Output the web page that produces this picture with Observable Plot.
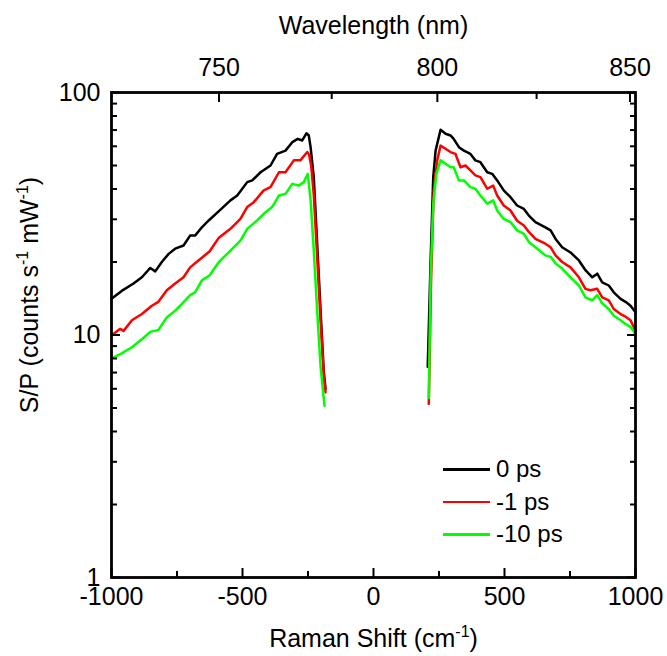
<!DOCTYPE html>
<html><head><meta charset="utf-8">
<script src="https://cdn.jsdelivr.net/npm/d3@7"></script>
<script src="https://cdn.jsdelivr.net/npm/@observablehq/plot@0.6"></script>
<style>
body{margin:0;background:#fff;font-family:"Liberation Sans",Arial,sans-serif;}
#wrap{position:relative;width:667px;height:656px;}
#legend{position:absolute;left:443px;top:453px;font-size:24px;color:#000;}
#legend .row{display:flex;align-items:center;height:32.5px;}
#legend .sw{width:47px;height:2.5px;margin-right:6px;}
</style></head><body><div id="wrap"></div><script>
// Series
const seriesNames = ["0 ps", "-1 ps", "-10 ps"];
const seriesColors = ["#000000", "#ff0000", "#00ff00"];

// Anti-Stokes branch (negative Raman shift), S/P in counts s^-1 mW^-1
const asShift0 = [-1000,-961,-916,-884,-852,-833,-808,-782,-757,-725,-700,-681,-655,-630,-588,-546,-520,-482,-463,-431,-393,-368,-336,-310,-289,-272,-256,-247,-240,-228,-215,-202,-190,-183];
const asSP0 = [14.1,15.2,16.3,17.3,18.9,18.3,20.0,21.6,22.7,23.4,25.7,25.7,27.8,29.6,32.6,35.9,37.6,42.7,43.4,46.9,50.0,55.8,57.6,62.4,64.4,63.4,67.9,66.5,59.4,44.8,23.8,12.6,7.1,6.0];
const asShift1 = [-1000,-967,-954,-922,-884,-846,-821,-789,-757,-725,-700,-668,-626,-590,-546,-508,-482,-457,-419,-393,-361,-336,-304,-279,-253,-246,-238,-228,-215,-202,-190,-183];
const asSP1 = [9.95,10.6,10.4,11.5,12.2,13.2,13.7,15.3,16.3,17.3,19.0,20.3,22.1,25.2,27.4,30.1,33.7,35.3,39.5,40.7,46.9,46.9,52.5,52.5,56.8,55.5,50,38,21,11.5,6.8,5.8];
const asShift10 = [-1000,-961,-922,-884,-852,-821,-789,-757,-738,-700,-681,-655,-626,-590,-546,-508,-482,-444,-419,-387,-361,-336,-310,-285,-266,-251,-240,-228,-215,-202,-187];
const asSP10 = [8.0,8.4,8.9,9.6,10.3,10.5,11.8,12.6,13.2,14.6,15.0,16.8,17.6,20.0,22.3,24.5,27.4,29.7,31.6,33.7,37.6,38.2,42.0,41.3,42.7,46.2,35.9,22.3,12.6,7.4,5.1];

// Stokes branch (positive Raman shift)
const sShift0 = [207,218,228,237,256,275,294,306,326,345,370,389,408,434,453,472,497,523,548,574,593,618,656,676,695,720,752,784,809,835,854,873,898,917,943,962,981,1000];
const sSP0 = [7.4,20.3,44.8,57.6,70.2,67.6,66.5,64.4,59.5,57.6,55.8,52.5,51.6,46.9,46.2,43.4,39.5,37.0,34.2,33.1,31.1,29.2,27.8,27.0,24.9,23.0,21.9,20.3,18.5,17.3,17.9,16.5,16.0,15.0,14.1,13.7,13.2,12.4];
const sShift1 = [211,220,230,243,256,275,294,313,332,351,370,389,408,434,457,472,497,523,548,574,593,618,656,676,695,720,752,784,809,828,854,873,898,917,943,962,981,1000];
const sSP1 = [5.2,17.3,39.5,52.5,60.4,58.6,56.8,55.8,49.2,50.0,47.7,45.5,44.8,40.1,41.3,37.6,34.2,32.6,29.6,28.3,26.6,24.9,23.8,23.0,21.3,20.0,19.0,17.3,15.5,15.3,15.5,14.3,13.9,12.8,12.2,11.9,11.5,10.4];
const sShift10 = [211,218,228,240,256,275,294,306,326,345,370,389,408,434,457,472,497,523,548,574,593,618,656,676,695,720,752,784,809,835,854,873,898,917,943,962,981,1000];
const sSP10 = [5.5,17.3,34.8,46.2,52.5,50.8,49.2,49.2,43.4,43.4,40.7,40.1,37.6,34.8,35.9,32.6,30.1,29.2,27.0,26.1,24.2,23.0,21.3,21.0,19.7,18.8,17.3,16.0,14.3,13.9,14.6,13.5,12.8,12.0,11.5,11.1,10.8,10.1];

// Axis ticks
const xMajor = [-1000, -500, 0, 500, 1000];
const xMinor = [-750, -250, 250, 750];
const yMajor = [1, 10, 100];
const yMinor = [2,3,4,5,6,7,8,9,20,30,40,50,60,70,80,90];
const wlMajor = [750, 800, 850];
const wlMinor = [775, 825];
const laserNm = 784.7; // excitation wavelength (nm) linking top and bottom axes
const toShift = nm => 1e7 / laserNm - 1e7 / nm;

const branches = [
  [[asShift0, asSP0], [sShift0, sSP0]],
  [[asShift1, asSP1], [sShift1, sSP1]],
  [[asShift10, asSP10], [sShift10, sSP10]]
];
const rowsBySeries = branches.map((brs, si) => brs.flatMap((b, bi) =>
  b[0].map((s, i) => ({shift: s, sp: b[1][i], branch: bi, series: seriesNames[si]}))));

const FONT = '"Liberation Sans", Arial, sans-serif';
const noText = () => "";

const marks = [];
rowsBySeries.forEach((rows, si) => {
  marks.push(Plot.line(rows, {x: "shift", y: "sp", z: "branch", stroke: seriesColors[si], strokeWidth: 2.5}));
});
marks.push(
  Plot.frame({stroke: "black", strokeWidth: 2.8}),
  // inward ticks
  Plot.axisX({anchor: "bottom", ticks: xMajor, tickSize: -9, tickFormat: noText, label: null, strokeWidth: 2}),
  Plot.axisX({anchor: "bottom", ticks: xMinor, tickSize: -6, tickFormat: noText, label: null, strokeWidth: 2}),
  Plot.axisX({anchor: "top", ticks: wlMajor.map(toShift), tickSize: -9, tickFormat: noText, label: null, strokeWidth: 2}),
  Plot.axisX({anchor: "top", ticks: wlMinor.map(toShift), tickSize: -6, tickFormat: noText, label: null, strokeWidth: 2}),
  Plot.axisY({anchor: "left", ticks: yMajor, tickSize: -9, tickFormat: noText, label: null, strokeWidth: 2}),
  Plot.axisY({anchor: "left", ticks: yMinor, tickSize: -6, tickFormat: noText, label: null, strokeWidth: 2}),
  Plot.axisY({anchor: "right", ticks: yMajor, tickSize: -9, tickFormat: noText, label: null, strokeWidth: 2}),
  Plot.axisY({anchor: "right", ticks: yMinor, tickSize: -6, tickFormat: noText, label: null, strokeWidth: 2}),
  // tick labels
  Plot.axisX({anchor: "bottom", ticks: xMajor, tickSize: 0, tickPadding: 10, tickFormat: d => String(d), label: null, fontSize: 25}),
  Plot.axisY({anchor: "left", ticks: yMajor, tickSize: 0, tickPadding: 11, tickFormat: d => String(d), label: null, fontSize: 25}),
  Plot.text(wlMajor, {x: toShift, frameAnchor: "top", lineAnchor: "bottom", dy: -17, text: d => String(d), fontSize: 25}),
  // titles
  Plot.text(["Wavelength (nm)"], {frameAnchor: "top", lineAnchor: "bottom", dy: -59, text: d => d, fontSize: 25}),
  Plot.text(["Raman Shift (cm-1)"], {frameAnchor: "bottom", lineAnchor: "bottom", dy: 69, text: d => d, fontSize: 25, className: "xtitle"}),
  Plot.text(["S/P (counts s-1 mW-1)"], {frameAnchor: "left", textAnchor: "middle", lineAnchor: "bottom", rotate: -90, dx: -74, dy: -40, text: d => d, fontSize: 25, className: "ytitle"})
);

const chart = Plot.plot({
  width: 667, height: 656,
  marginTop: 92, marginBottom: 79, marginLeft: 111, marginRight: 32,
  style: {fontFamily: FONT, fontSize: "25px", color: "black", background: "white", overflow: "visible"},
  x: {domain: [-1000, 1000]},
  y: {type: "log", domain: [1, 100]},
  marks
});

// superscripts in titles
const NS = "http://www.w3.org/2000/svg";
function setParts(textEl, parts) {
  if (!textEl) return;
  textEl.textContent = "";
  let raised = false;
  parts.forEach(([str, sup]) => {
    const t = document.createElementNS(NS, "tspan");
    t.textContent = str;
    if (sup && !raised) { t.setAttribute("dy", "-10"); raised = true; }
    if (!sup && raised) { t.setAttribute("dy", "10"); raised = false; }
    if (sup) t.setAttribute("font-size", "16");
    textEl.appendChild(t);
  });
}
setParts(chart.querySelector(".xtitle text"), [["Raman Shift (cm", false], ["-1", true], [")", false]]);
setParts(chart.querySelector(".ytitle text"), [["S/P (counts s", false], ["-1", true], [" mW", false], ["-1", true], [")", false]]);

const wrap = document.getElementById("wrap");
wrap.appendChild(chart);

// legend
const legend = document.createElement("div");
legend.id = "legend";
seriesNames.forEach((name, i) => {
  const row = document.createElement("div");
  row.className = "row";
  const sw = document.createElement("div");
  sw.className = "sw";
  sw.style.background = seriesColors[i];
  const lab = document.createElement("span");
  lab.textContent = name;
  row.appendChild(sw); row.appendChild(lab);
  legend.appendChild(row);
});
wrap.appendChild(legend);
</script></body></html>
